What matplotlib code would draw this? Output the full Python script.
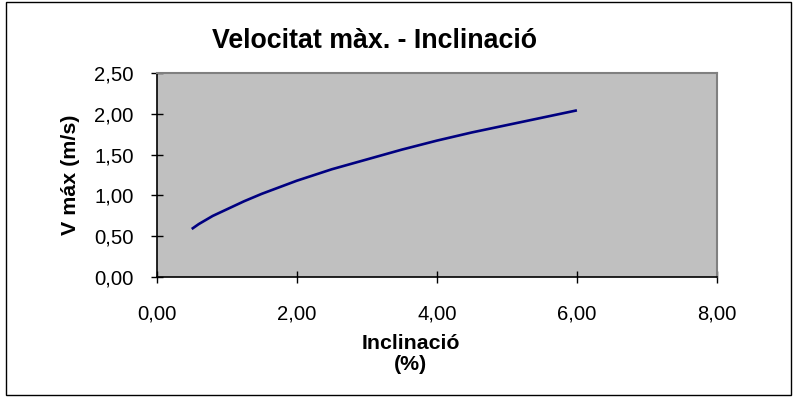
import matplotlib
matplotlib.use("Agg")
import matplotlib.pyplot as plt
from matplotlib.patches import Rectangle
from matplotlib.ticker import FuncFormatter

plt.rcParams['font.family'] = ['Liberation Sans', 'DejaVu Sans']

inclinacio = [0.5, 0.6, 0.7, 0.8, 0.9, 1.0, 1.25, 1.5, 1.75, 2.0, 2.5, 3.0, 3.5, 4.0, 4.5, 5.0, 5.5, 6.0]
vmax = [0.59, 0.65, 0.70, 0.75, 0.79, 0.83, 0.93, 1.02, 1.10, 1.18, 1.32, 1.44, 1.56, 1.67, 1.77, 1.86, 1.95, 2.04]
xticks = [0, 2, 4, 6, 8]
yticks = [0, 0.5, 1.0, 1.5, 2.0, 2.5]

fig = plt.figure(figsize=(7.95, 3.97), dpi=100)
fig.patches.append(Rectangle((6/795, 2/397), 785/795, 393/397, transform=fig.transFigure,
                             fill=False, edgecolor='black', linewidth=1.0))

ax = fig.add_axes([156.7/795, 1 - 277.3/397, 560.3/795, 204.6/397])
ax.set_facecolor('#C0C0C0')
ax.plot(inclinacio, vmax, color='#000080', linewidth=1.9, solid_capstyle='butt')
ax.set_xlim(0, 8)
ax.set_ylim(0, 2.5)
ax.set_xticks(xticks)
ax.set_yticks(yticks)
fmt = FuncFormatter(lambda v, p: f"{v:.2f}".replace('.', ','))
ax.xaxis.set_major_formatter(fmt)
ax.yaxis.set_major_formatter(fmt)
for s in ['top', 'right']:
    ax.spines[s].set_color('#808080')
    ax.spines[s].set_linewidth(1.5)
for s in ['left', 'bottom']:
    ax.spines[s].set_color('black')
    ax.spines[s].set_linewidth(1.2)
ax.tick_params(axis='y', direction='inout', length=9, width=1, labelsize=14.6, pad=12)
ax.tick_params(axis='x', direction='inout', length=9, width=1, labelsize=14.6, pad=15)

fig.text(374.5/795, 1 - 41/397, 'Velocitat màx. - Inclinació', ha='center', va='center',
         fontsize=19.3, fontweight='bold')
fig.text(410.5/795, 1 - 354/397, 'Inclinació\n(%)', ha='center', va='center',
         fontsize=15.4, fontweight='bold', linespacing=1.15)
fig.text(70/795, 1 - 175/397, 'V máx (m/s)', ha='center', va='center', rotation=90,
         fontsize=15.4, fontweight='bold')

fig.savefig('out.png', dpi=100)
